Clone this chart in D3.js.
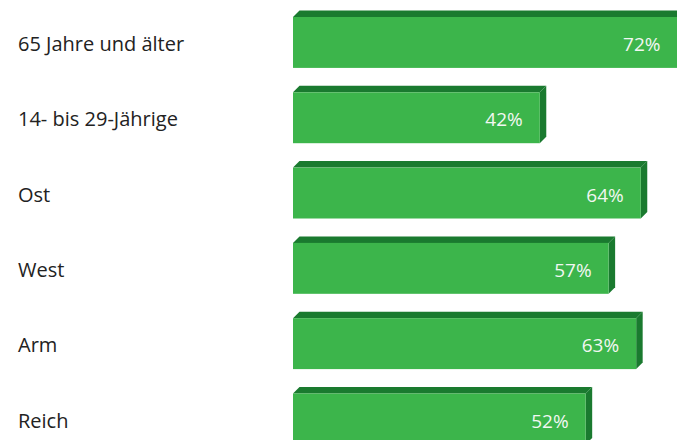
<!DOCTYPE html>
<html><head><meta charset="utf-8">
<script src="https://cdn.jsdelivr.net/npm/d3@7"></script>
<style>html,body{margin:0;padding:0;background:#fff;overflow:hidden}</style>
</head><body>
<svg id="c" width="677" height="440"></svg>
<script>
const categories = ["65 Jahre und älter", "14- bis 29-Jährige", "Ost", "West", "Arm", "Reich"];
const values = [72, 42, 64, 57, 63, 52];
const valueLabels = ["72%", "42%", "64%", "57%", "63%", "52%"];

const W = 677, H = 440;
const svg = d3.select("#c");
const barLeft = 293, depth = 6.5;
const x = d3.scaleLinear().domain([0, 100]).range([347, 347 + 459]);
const step = 75.3, pad = 0.324;
const y = d3.scaleBand().domain(categories).range([17, 17 + step * (categories.length - pad)]).paddingInner(pad).paddingOuter(0);
const front = "#3cb54b", dark = "#1a7a2f";

const g = svg.selectAll("g.bar").data(categories).enter().append("g").attr("class", "bar");
g.each(function(c, i) {
  const sel = d3.select(this);
  const x1 = x(values[i]), y0 = y(c), y1 = y0 + y.bandwidth();
  sel.append("polygon")
    .attr("points", [[barLeft, y0], [barLeft + depth, y0 - depth], [x1 + depth, y0 - depth], [x1, y0]].map(p => p.join(",")).join(" "))
    .attr("fill", dark);
  sel.append("polygon")
    .attr("points", [[x1, y0], [x1 + depth, y0 - depth], [x1 + depth, y1 - depth], [x1, y1]].map(p => p.join(",")).join(" "))
    .attr("fill", dark);
  sel.append("rect").attr("x", barLeft).attr("y", y0).attr("width", x1 - barLeft).attr("height", y.bandwidth()).attr("fill", front);
  sel.append("text").attr("x", x1 - 17).attr("y", y0 + 34)
    .attr("text-anchor", "end").attr("fill", "#f2f7f2")
    .style("font-family", "'Open Sans', sans-serif").style("font-size", "19px")
    .text(valueLabels[i]);
  sel.append("text").attr("x", 18).attr("y", y0 + 34)
    .attr("fill", "#222")
    .style("font-family", "'Open Sans', sans-serif").style("font-size", "20px")
    .text(c);
});
</script>
</body></html>
